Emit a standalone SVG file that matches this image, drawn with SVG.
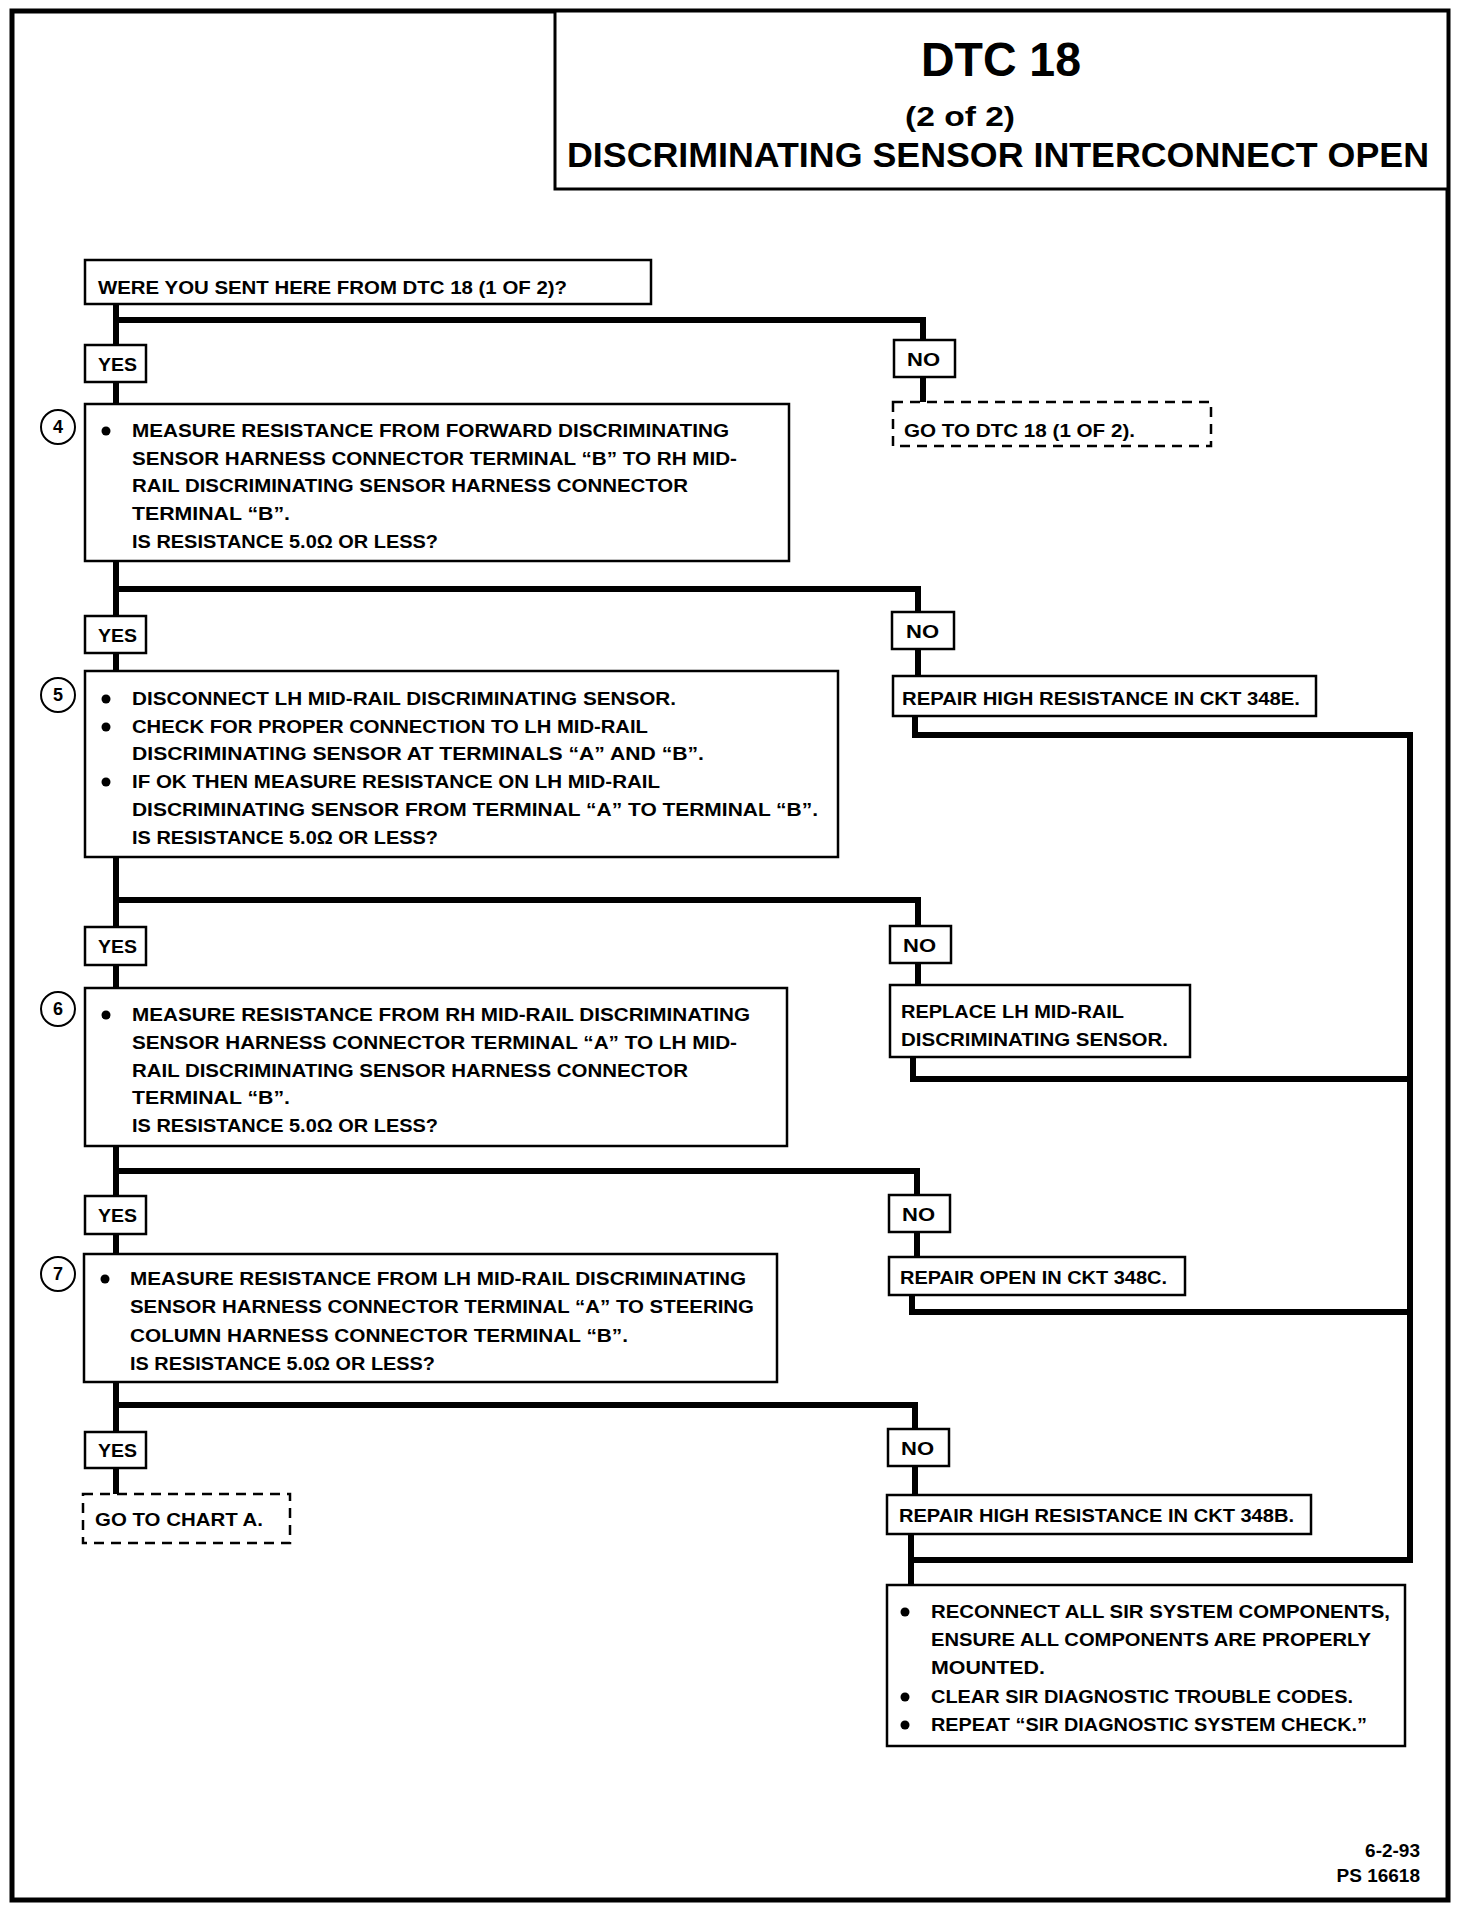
<svg xmlns="http://www.w3.org/2000/svg" width="1472" height="1912" viewBox="0 0 1472 1912">
<style>
text{font-family:"Liberation Sans Narrow","Liberation Sans",Arial,sans-serif;font-weight:bold;fill:#000}
.t{font-size:19px}
.box{fill:#fff;stroke:#000;stroke-width:2.5}
.dash{fill:#fff;stroke:#000;stroke-width:2.5;stroke-dasharray:10 7}
.con{fill:none;stroke:#000;stroke-width:6;stroke-linejoin:miter;stroke-linecap:square}
.circ{fill:#fff;stroke:#000;stroke-width:2}
.num{font-size:18px;text-anchor:middle}
.bul{fill:#000}
</style>
<rect x="0" y="0" width="1472" height="1912" fill="#fff"/>
<rect id="frame" x="12" y="11" width="1436" height="1889" fill="none" stroke="#000" stroke-width="5"/>
<g id="title">
<rect x="555" y="11" width="893" height="178" fill="#fff" stroke="#000" stroke-width="3"/>
<text x="1001" y="76" style="font-size:48px" text-anchor="middle" textLength="160" lengthAdjust="spacingAndGlyphs">DTC 18</text>
<text x="960" y="126" style="font-size:27px" text-anchor="middle" textLength="110" lengthAdjust="spacingAndGlyphs">(2 of 2)</text>
<text x="567" y="167" style="font-size:35px" textLength="862" lengthAdjust="spacingAndGlyphs">DISCRIMINATING SENSOR INTERCONNECT OPEN</text>
</g>
<g id="connectors">
<path class="con" d="M116 304 V1494"/>
<path class="con" d="M116 320 H923 V402"/>
<path class="con" d="M116 589 H918 V676"/>
<path class="con" d="M116 900 H918 V985"/>
<path class="con" d="M116 1171 H917 V1257"/>
<path class="con" d="M116 1405 H915 V1495"/>
<path class="con" d="M915 716 V735 H1410 V1560 H911"/>
<path class="con" d="M913 1057 V1079 H1410"/>
<path class="con" d="M912 1295 V1312 H1410"/>
<path class="con" d="M911 1534 V1585"/>
</g>
<g id="q1">
<rect class="box" x="85" y="260" width="566" height="44"/>
<text class="t" x="98" y="294" textLength="469" lengthAdjust="spacingAndGlyphs">WERE YOU SENT HERE FROM DTC 18 (1 OF 2)?</text>
</g>
<g id="yes1"><rect class="box" x="85" y="345" width="61" height="37"/><text class="t" x="98" y="371" textLength="39" lengthAdjust="spacingAndGlyphs">YES</text></g>
<g id="no1"><rect class="box" x="894" y="340" width="61" height="37"/><text class="t" x="907" y="366" textLength="33" lengthAdjust="spacingAndGlyphs">NO</text></g>
<g id="goto1"><rect class="dash" x="893" y="402" width="318" height="44"/><text class="t" x="904" y="437" textLength="231" lengthAdjust="spacingAndGlyphs">GO TO DTC 18 (1 OF 2).</text></g>
<g id="step4">
<circle class="circ" cx="58" cy="427" r="17"/><text class="num" x="58" y="433">4</text>
<rect class="box" x="85" y="404" width="704" height="157"/>
<circle class="bul" cx="106" cy="431" r="4.5"/>
<text class="t" x="132" y="437" textLength="597" lengthAdjust="spacingAndGlyphs">MEASURE RESISTANCE FROM FORWARD DISCRIMINATING</text>
<text class="t" x="132" y="465" textLength="605" lengthAdjust="spacingAndGlyphs">SENSOR HARNESS CONNECTOR TERMINAL “B” TO RH MID-</text>
<text class="t" x="132" y="492" textLength="556" lengthAdjust="spacingAndGlyphs">RAIL DISCRIMINATING SENSOR HARNESS CONNECTOR</text>
<text class="t" x="132" y="520" textLength="158" lengthAdjust="spacingAndGlyphs">TERMINAL “B”.</text>
<text class="t" x="132" y="548" textLength="306" lengthAdjust="spacingAndGlyphs">IS RESISTANCE 5.0Ω OR LESS?</text>
</g>
<g id="yes2"><rect class="box" x="85" y="616" width="61" height="37"/><text class="t" x="98" y="642" textLength="39" lengthAdjust="spacingAndGlyphs">YES</text></g>
<g id="no2"><rect class="box" x="892" y="612" width="62" height="37"/><text class="t" x="906" y="638" textLength="33" lengthAdjust="spacingAndGlyphs">NO</text></g>
<g id="fix348e"><rect class="box" x="893" y="676" width="423" height="40"/><text class="t" x="902" y="705" textLength="398" lengthAdjust="spacingAndGlyphs">REPAIR HIGH RESISTANCE IN CKT 348E.</text></g>
<g id="step5">
<circle class="circ" cx="58" cy="695" r="17"/><text class="num" x="58" y="701">5</text>
<rect class="box" x="85" y="671" width="753" height="186"/>
<circle class="bul" cx="106" cy="699" r="4.5"/>
<circle class="bul" cx="106" cy="727" r="4.5"/>
<circle class="bul" cx="106" cy="782" r="4.5"/>
<text class="t" x="132" y="705" textLength="544" lengthAdjust="spacingAndGlyphs">DISCONNECT LH MID-RAIL DISCRIMINATING SENSOR.</text>
<text class="t" x="132" y="733" textLength="516" lengthAdjust="spacingAndGlyphs">CHECK FOR PROPER CONNECTION TO LH MID-RAIL</text>
<text class="t" x="132" y="760" textLength="572" lengthAdjust="spacingAndGlyphs">DISCRIMINATING SENSOR AT TERMINALS “A” AND “B”.</text>
<text class="t" x="132" y="788" textLength="528" lengthAdjust="spacingAndGlyphs">IF OK THEN MEASURE RESISTANCE ON LH MID-RAIL</text>
<text class="t" x="132" y="816" textLength="686" lengthAdjust="spacingAndGlyphs">DISCRIMINATING SENSOR FROM TERMINAL “A” TO TERMINAL “B”.</text>
<text class="t" x="132" y="844" textLength="306" lengthAdjust="spacingAndGlyphs">IS RESISTANCE 5.0Ω OR LESS?</text>
</g>
<g id="yes3"><rect class="box" x="85" y="927" width="61" height="38"/><text class="t" x="98" y="953" textLength="39" lengthAdjust="spacingAndGlyphs">YES</text></g>
<g id="no3"><rect class="box" x="890" y="926" width="61" height="37"/><text class="t" x="903" y="952" textLength="33" lengthAdjust="spacingAndGlyphs">NO</text></g>
<g id="replace">
<rect class="box" x="890" y="985" width="300" height="72"/>
<text class="t" x="901" y="1018" textLength="223" lengthAdjust="spacingAndGlyphs">REPLACE LH MID-RAIL</text>
<text class="t" x="901" y="1046" textLength="267" lengthAdjust="spacingAndGlyphs">DISCRIMINATING SENSOR.</text>
</g>
<g id="step6">
<circle class="circ" cx="58" cy="1009" r="17"/><text class="num" x="58" y="1015">6</text>
<rect class="box" x="85" y="988" width="702" height="158"/>
<circle class="bul" cx="106" cy="1015" r="4.5"/>
<text class="t" x="132" y="1021" textLength="618" lengthAdjust="spacingAndGlyphs">MEASURE RESISTANCE FROM RH MID-RAIL DISCRIMINATING</text>
<text class="t" x="132" y="1049" textLength="605" lengthAdjust="spacingAndGlyphs">SENSOR HARNESS CONNECTOR TERMINAL “A” TO LH MID-</text>
<text class="t" x="132" y="1077" textLength="556" lengthAdjust="spacingAndGlyphs">RAIL DISCRIMINATING SENSOR HARNESS CONNECTOR</text>
<text class="t" x="132" y="1104" textLength="158" lengthAdjust="spacingAndGlyphs">TERMINAL “B”.</text>
<text class="t" x="132" y="1132" textLength="306" lengthAdjust="spacingAndGlyphs">IS RESISTANCE 5.0Ω OR LESS?</text>
</g>
<g id="yes4"><rect class="box" x="85" y="1196" width="61" height="38"/><text class="t" x="98" y="1222" textLength="39" lengthAdjust="spacingAndGlyphs">YES</text></g>
<g id="no4"><rect class="box" x="889" y="1195" width="61" height="37"/><text class="t" x="902" y="1221" textLength="33" lengthAdjust="spacingAndGlyphs">NO</text></g>
<g id="fix348c"><rect class="box" x="889" y="1257" width="296" height="38"/><text class="t" x="900" y="1284" textLength="267" lengthAdjust="spacingAndGlyphs">REPAIR OPEN IN CKT 348C.</text></g>
<g id="step7">
<circle class="circ" cx="58" cy="1274" r="17"/><text class="num" x="58" y="1280">7</text>
<rect class="box" x="84" y="1254" width="693" height="128"/>
<circle class="bul" cx="105" cy="1279" r="4.5"/>
<text class="t" x="130" y="1285" textLength="616" lengthAdjust="spacingAndGlyphs">MEASURE RESISTANCE FROM LH MID-RAIL DISCRIMINATING</text>
<text class="t" x="130" y="1313" textLength="624" lengthAdjust="spacingAndGlyphs">SENSOR HARNESS CONNECTOR TERMINAL “A” TO STEERING</text>
<text class="t" x="130" y="1342" textLength="498" lengthAdjust="spacingAndGlyphs">COLUMN HARNESS CONNECTOR TERMINAL “B”.</text>
<text class="t" x="130" y="1370" textLength="305" lengthAdjust="spacingAndGlyphs">IS RESISTANCE 5.0Ω OR LESS?</text>
</g>
<g id="yes5"><rect class="box" x="85" y="1432" width="61" height="36"/><text class="t" x="98" y="1457" textLength="39" lengthAdjust="spacingAndGlyphs">YES</text></g>
<g id="chartA"><rect class="dash" x="83" y="1494" width="207" height="49"/><text class="t" x="95" y="1526" textLength="168" lengthAdjust="spacingAndGlyphs">GO TO CHART A.</text></g>
<g id="no5"><rect class="box" x="888" y="1429" width="61" height="37"/><text class="t" x="901" y="1455" textLength="33" lengthAdjust="spacingAndGlyphs">NO</text></g>
<g id="fix348b"><rect class="box" x="887" y="1495" width="424" height="39"/><text class="t" x="899" y="1522" textLength="395" lengthAdjust="spacingAndGlyphs">REPAIR HIGH RESISTANCE IN CKT 348B.</text></g>
<g id="final">
<rect class="box" x="887" y="1585" width="518" height="161"/>
<circle class="bul" cx="905" cy="1612" r="4.5"/>
<circle class="bul" cx="905" cy="1697" r="4.5"/>
<circle class="bul" cx="905" cy="1725" r="4.5"/>
<text class="t" x="931" y="1618" textLength="459" lengthAdjust="spacingAndGlyphs">RECONNECT ALL SIR SYSTEM COMPONENTS,</text>
<text class="t" x="931" y="1646" textLength="440" lengthAdjust="spacingAndGlyphs">ENSURE ALL COMPONENTS ARE PROPERLY</text>
<text class="t" x="931" y="1674" textLength="114" lengthAdjust="spacingAndGlyphs">MOUNTED.</text>
<text class="t" x="931" y="1703" textLength="422" lengthAdjust="spacingAndGlyphs">CLEAR SIR DIAGNOSTIC TROUBLE CODES.</text>
<text class="t" x="931" y="1731" textLength="436" lengthAdjust="spacingAndGlyphs">REPEAT “SIR DIAGNOSTIC SYSTEM CHECK.”</text>
</g>
<g id="footer">
<text class="t" x="1420" y="1857" text-anchor="end">6-2-93</text>
<text class="t" x="1420" y="1882" text-anchor="end">PS 16618</text>
</g>
</svg>
